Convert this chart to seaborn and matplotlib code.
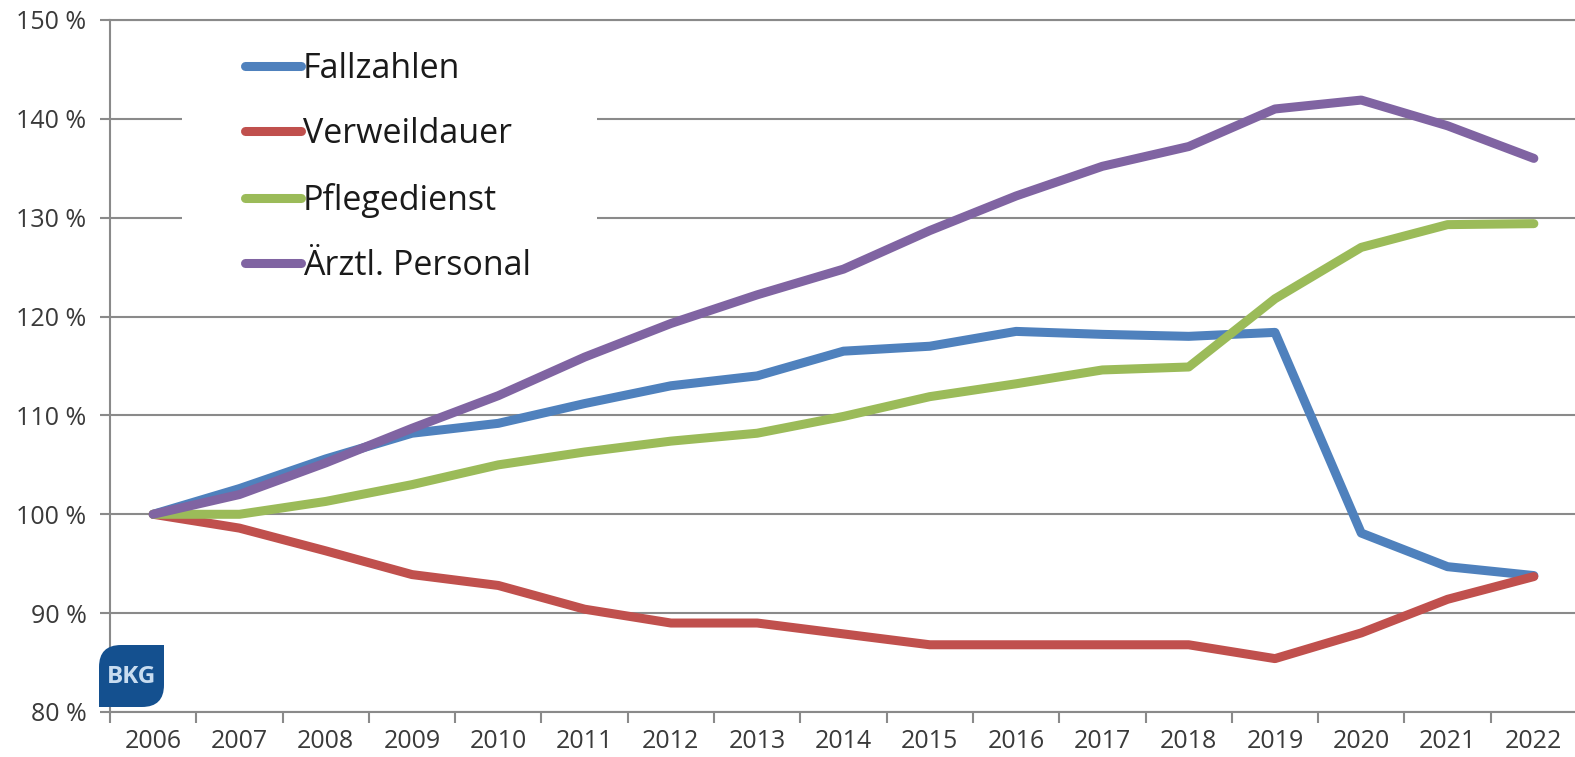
import pandas as pd
import seaborn as sns
import matplotlib.pyplot as plt
from matplotlib.lines import Line2D
from matplotlib.patches import Rectangle, PathPatch
from matplotlib.path import Path

years = list(range(2006, 2023))
fallzahlen = [100.0, 102.6, 105.6, 108.2, 109.2, 111.2, 113.0, 114.0, 116.5, 117.0,
              118.5, 118.2, 118.0, 118.4, 98.1, 94.7, 93.8]
verweildauer = [100.0, 98.6, 96.3, 93.9, 92.8, 90.4, 89.0, 89.0, 87.9, 86.8,
                86.8, 86.8, 86.8, 85.4, 88.0, 91.4, 93.7]
pflegedienst = [100.0, 100.0, 101.3, 103.0, 105.0, 106.3, 107.4, 108.2, 109.9, 111.9,
                113.2, 114.6, 114.9, 121.8, 127.0, 129.3, 129.4]
aerztl_personal = [100.0, 102.0, 105.2, 108.7, 112.0, 115.9, 119.3, 122.2, 124.8, 128.7,
                   132.2, 135.2, 137.2, 141.0, 141.9, 139.3, 136.0]

series_names = ["Fallzahlen", "Verweildauer", "Pflegedienst", "Ärztl. Personal"]
colors = ["#4F81BD", "#C0504D", "#9BBB59", "#8064A2"]
y_ticks = [80, 90, 100, 110, 120, 130, 140, 150]

df = pd.DataFrame({"Jahr": years * 4,
                   "Wert": fallzahlen + verweildauer + pflegedienst + aerztl_personal,
                   "Reihe": [n for n in series_names for _ in years]})

sns.set_style("white")
plt.rcParams["font.family"] = ["Open Sans", "DejaVu Sans"]

grey = "#8a8a8a"
txt = "#3a3a3a"

fig = plt.figure(figsize=(15.75, 7.57), dpi=100)
ax = fig.add_axes([110 / 1575, 45 / 757, 1467 / 1575, 692 / 757])

sns.lineplot(data=df, x="Jahr", y="Wert", hue="Reihe", hue_order=series_names,
             palette=colors, linewidth=6.5, legend=False, ax=ax,
             solid_capstyle="round", solid_joinstyle="round", zorder=3)

ax.set_xlim(2005.5, 2022.5)
ax.set_ylim(80, 150)
ax.set_xlabel("")
ax.set_ylabel("")

ax.set_yticks(y_ticks)
ax.set_yticklabels([f"{v} %" for v in y_ticks])
ax.set_xticks(years)
ax.set_xticklabels([str(y) for y in years])
ax.set_xticks([y - 0.5 for y in years], minor=True)

ax.tick_params(axis="y", length=7, width=1.5, color=grey, direction="out",
               labelsize=18, labelcolor=txt, pad=10, left=True)
ax.tick_params(axis="x", which="major", length=0, labelsize=18,
               labelcolor=txt, pad=12)
ax.tick_params(axis="x", which="minor", length=8, width=1.5, color=grey,
               direction="out", bottom=True)

ax.yaxis.grid(True, color=grey, linewidth=1.5)
ax.set_axisbelow(True)
for side in ["left", "bottom", "top"]:
    ax.spines[side].set_color(grey)
    ax.spines[side].set_linewidth(1.5)
ax.spines["right"].set_visible(False)

# white box behind the legend hides the gridlines
ax.add_patch(Rectangle((72 / 1467, 412 / 692), 415 / 1467, 272 / 692,
                       transform=ax.transAxes, facecolor="white",
                       edgecolor="none", zorder=1))

handles = [Line2D([], [], color=c, lw=6.5, solid_capstyle="round") for c in colors]
ax.legend(handles, series_names, loc="upper left",
          bbox_to_anchor=(135 / 1467, 660 / 692), frameon=False,
          fontsize=24.5, labelcolor="#1a1a1a", handlelength=1.65,
          handletextpad=0.05, labelspacing=0.92, borderpad=0, borderaxespad=0)

# BKG logo
x0, x1, y0, y1, r = 0.99, 1.64, 0.50, 1.12, 0.22
verts = [(x0, y0), (x1 - r, y0), (x1, y0), (x1, y0 + r), (x1, y1),
         (x0 + r, y1), (x0, y1), (x0, y1 - r), (x0, y0)]
codes = [Path.MOVETO, Path.LINETO, Path.CURVE3, Path.CURVE3, Path.LINETO,
         Path.LINETO, Path.CURVE3, Path.CURVE3, Path.CLOSEPOLY]
fig.patches.append(PathPatch(Path(verts, codes), facecolor="#14508F",
                             edgecolor="none", transform=fig.dpi_scale_trans,
                             zorder=5))
fig.text(1.315, 0.74, "BKG", transform=fig.dpi_scale_trans, ha="center",
         va="baseline", fontsize=17.5, fontweight="bold", color="#C8DCF0", zorder=6)

fig.savefig("out.png", dpi=100)
